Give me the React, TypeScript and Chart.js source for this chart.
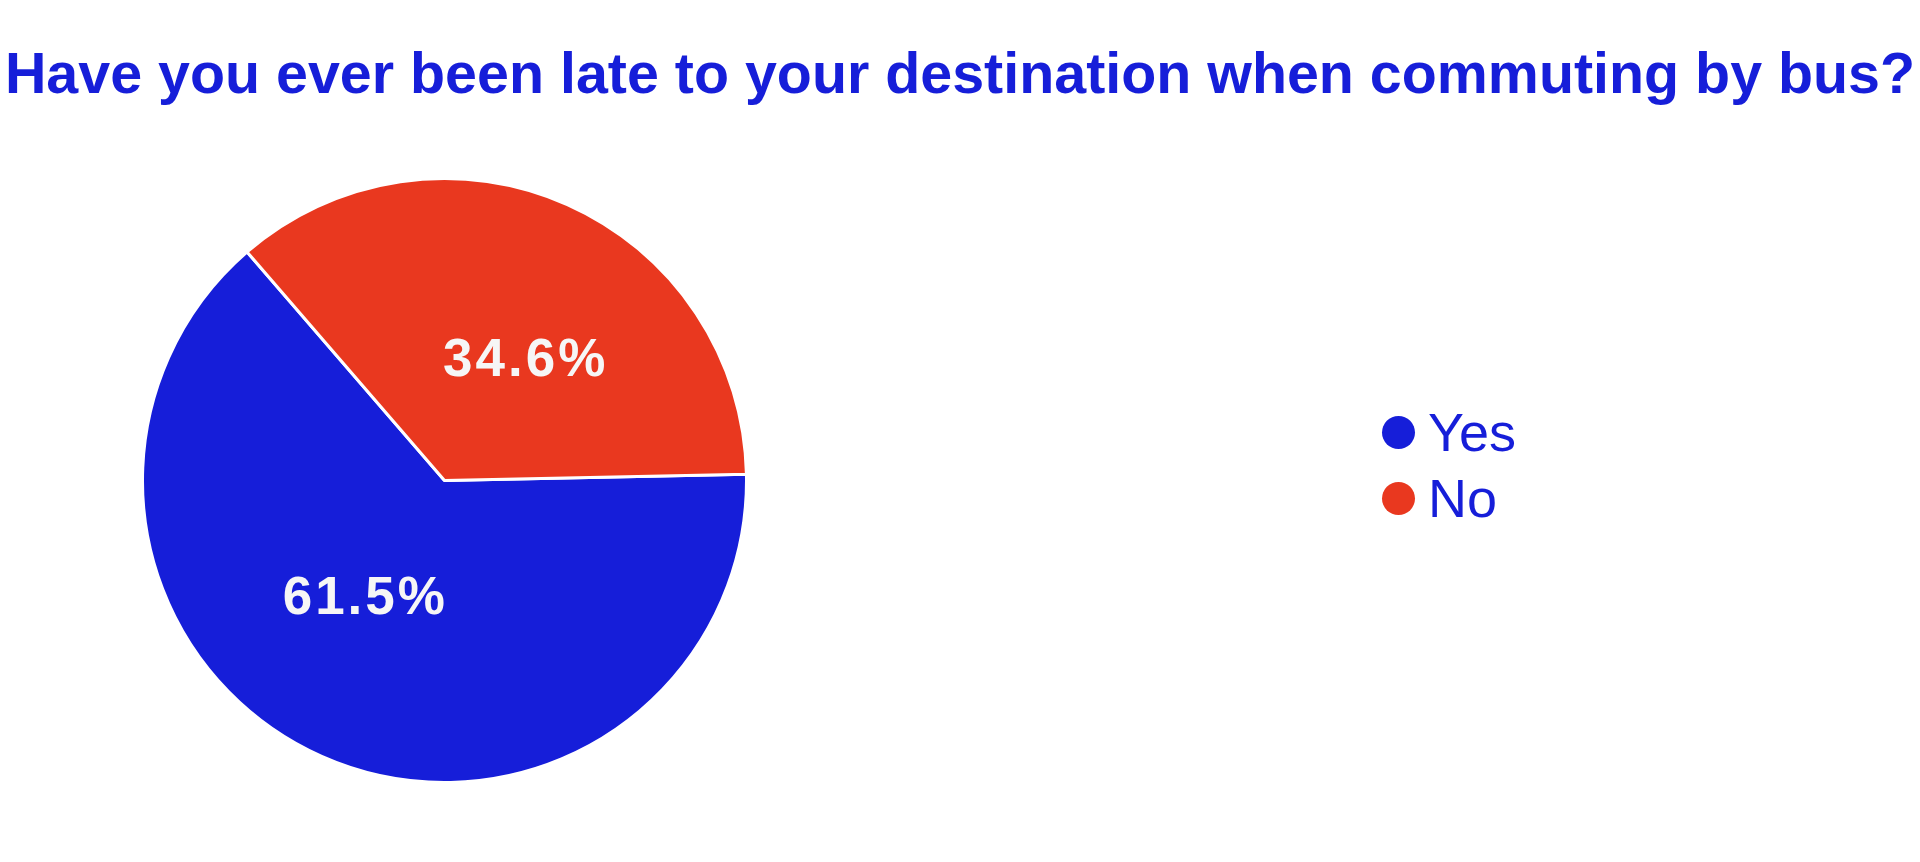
import React, { useEffect, useRef } from 'react';
import Chart from 'chart.js/auto';

const answers = ['Yes', 'No'];
const shares = [61.5, 34.6];
const sliceColors = ['#161ED9', '#E9381F'];
const questionText = 'Have you ever been late to your destination when commuting by bus?';

const BLUE = '#161ED9';
const FONT = "'Liberation Sans', Arial, sans-serif";

// writes the percentage inside each slice
const sliceLabels = {
    id: 'sliceLabels',
    afterDatasetsDraw(chart: any) {
        const ctx = chart.ctx;
        const meta = chart.getDatasetMeta(0);
        ctx.save();
        ctx.font = `bold 53px ${FONT}`;
        (ctx as any).letterSpacing = '3px';
        ctx.fillStyle = '#F6F6F6';
        ctx.textAlign = 'center';
        ctx.textBaseline = 'middle';
        meta.data.forEach((arc: any, i: number) => {
            const { x, y, startAngle, endAngle, outerRadius } = arc.getProps(
                ['x', 'y', 'startAngle', 'endAngle', 'outerRadius'], true
            );
            const mid = (startAngle + endAngle) / 2 + (10 * Math.PI) / 180;
            const r = outerRadius * 0.475;
            ctx.fillText(shares[i].toFixed(1) + '%', x + Math.cos(mid) * r + 1, y + Math.sin(mid) * r);
        });
        ctx.restore();
    }
};

const App: React.FC = () => {
    const canvasRef = useRef<HTMLCanvasElement>(null);
    const chartRef = useRef<Chart | null>(null);

    useEffect(() => {
        if (!canvasRef.current) return;
        if (chartRef.current) chartRef.current.destroy();
        chartRef.current = new Chart(canvasRef.current, {
            type: 'pie',
            data: {
                labels: answers,
                datasets: [{
                    data: shares,
                    backgroundColor: sliceColors,
                    borderColor: '#ffffff',
                    borderWidth: 3
                }]
            },
            options: {
                animation: false,
                responsive: true,
                maintainAspectRatio: false,
                rotation: 88.8,
                layout: { padding: 0 },
                plugins: {
                    legend: { display: false },
                    title: { display: false },
                    tooltip: { enabled: false }
                }
            },
            plugins: [sliceLabels]
        });
        return () => {
            if (chartRef.current) chartRef.current.destroy();
            chartRef.current = null;
        };
    }, []);

    return (
        <div style={{ position: 'fixed', left: 0, top: 0, width: 1920, height: 862, background: '#fff', fontFamily: FONT, overflow: 'hidden' }}>
            <div style={{
                position: 'absolute', top: 45, left: 0, width: 1920, textAlign: 'center',
                fontSize: '57.4px', lineHeight: '57px', fontWeight: 'bold', color: BLUE, whiteSpace: 'nowrap'
            }}>
                {questionText}
            </div>
            <div style={{ position: 'absolute', left: 0, top: 177, width: 889, height: 607 }}>
                <canvas ref={canvasRef}></canvas>
            </div>
            {answers.map((a, i) => (
                <div key={a} style={{
                    position: 'absolute', left: 1382, top: 406 + i * 66, height: 53,
                    display: 'flex', alignItems: 'center'
                }}>
                    <span style={{ width: 33, height: 33, borderRadius: '50%', background: sliceColors[i], marginRight: 13 }}></span>
                    <span style={{ fontSize: '54px', lineHeight: '53px', color: BLUE }}>{a}</span>
                </div>
            ))}
        </div>
    );
};

export default App;
